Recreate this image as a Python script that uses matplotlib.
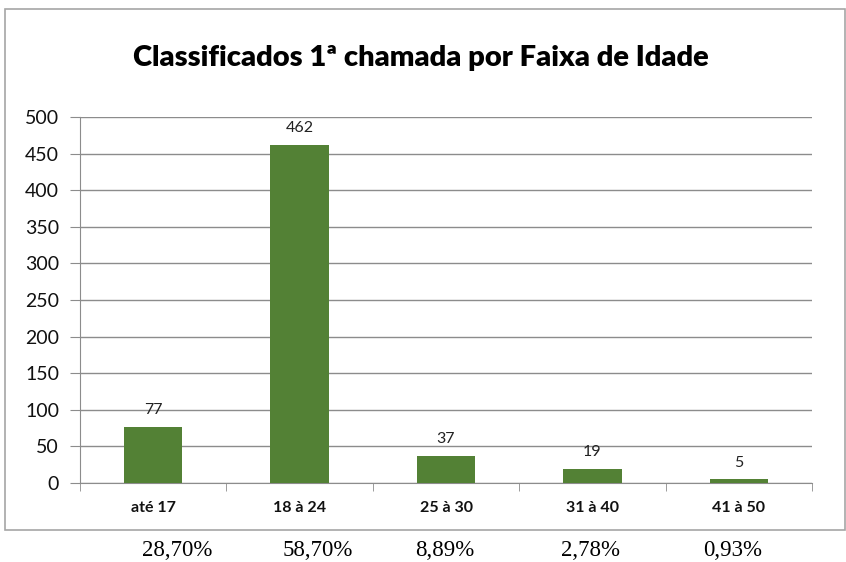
import matplotlib
matplotlib.use("Agg")
import matplotlib.pyplot as plt
from matplotlib.patches import Rectangle

# data
faixas = ["até 17", "18 à 24", "25 à 30", "31 à 40", "41 à 50"]
classificados = [77, 462, 37, 19, 5]
percentuais = ["28,70%", "58,70%", "8,89%", "2,78%", "0,93%"]
y_ticks = [0, 50, 100, 150, 200, 250, 300, 350, 400, 450, 500]

W, H = 846, 562
fig = plt.figure(figsize=(W / 100, H / 100), dpi=100)
plt.rcParams['font.family'] = ['Lato', 'DejaVu Sans']

# chart frame (the Excel chart area border)
fig.patches.append(Rectangle((5 / W, 1 - 530 / H), 840 / W, 521 / H,
                             transform=fig.transFigure, fill=False,
                             edgecolor='#a6a6a6', linewidth=1.2))

ax = fig.add_axes([80 / W, 1 - 483 / H, 732 / W, 366 / H])
x = list(range(len(faixas)))
bars = ax.bar(x, classificados, width=0.4, color='#538135', zorder=3)

ax.set_xlim(-0.5, len(faixas) - 0.5)
ax.set_ylim(0, 500)
ax.set_yticks(y_ticks)
ax.yaxis.grid(True, color='#8c8c8c', linewidth=1)
ax.set_axisbelow(True)
for s in ['top', 'right']:
    ax.spines[s].set_visible(False)
for s in ['left', 'bottom']:
    ax.spines[s].set_color('#8c8c8c')
ax.tick_params(axis='y', length=7, color='#8c8c8c', labelsize=14,
               pad=8, labelcolor='#111111')

# category labels centred, ticks on category boundaries
ax.set_xticks(x)
ax.set_xticklabels(faixas, fontweight='bold', fontsize=11.5, color='#111111')
ax.tick_params(axis='x', length=0, pad=13)
ax.set_xticks([i - 0.5 for i in range(len(faixas) + 1)], minor=True)
ax.tick_params(axis='x', which='minor', length=6, color='#8c8c8c')

for b, v in zip(bars, classificados):
    ax.annotate(str(v), (b.get_x() + b.get_width() / 2, v),
                xytext=(0, 7), textcoords='offset points',
                ha='center', va='bottom', fontsize=11.5, color='#222222')

fig.text(421 / W, 1 - 58 / H, "Classificados 1ª chamada por Faixa de Idade",
         ha='center', va='center', fontsize=21, fontweight='heavy')

# percentages typed under the chart
pct_x = [177, 318, 445, 590, 733]
for px, p in zip(pct_x, percentuais):
    fig.text(px / W, 1 - 550 / H, p, ha='center', va='center',
             fontsize=16.5, family=['Liberation Serif', 'DejaVu Serif'])

fig.savefig("out.png", dpi=100)
